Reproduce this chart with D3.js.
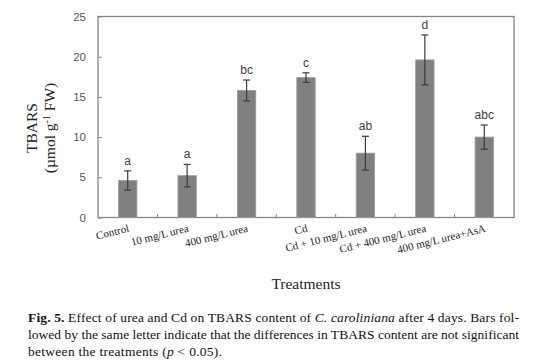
<!DOCTYPE html>
<html>
<head>
<meta charset="utf-8">
<script src="https://cdn.jsdelivr.net/npm/d3@7"></script>
<style>
  html, body { margin: 0; padding: 0; background: #ffffff; }
  svg { display: block; }
</style>
</head>
<body>
<svg id="chart" width="544" height="364"></svg>
<script>
const categories = ["Control", "10 mg/L urea", "400 mg/L urea", "Cd", "Cd + 10 mg/L urea", "Cd + 400 mg/L urea", "400 mg/L urea+AsA"];
const means = [4.6, 5.2, 15.8, 17.4, 8.0, 19.6, 10.0];
const errors = [1.2, 1.4, 1.3, 0.6, 2.1, 3.1, 1.5];
const letters = ["a", "a", "bc", "c", "ab", "d", "abc"];
const yTicks = [0, 5, 10, 15, 20, 25];

const svg = d3.select("#chart");
const plotLeft = 98, plotRight = 514, plotTop = 16.5, plotBottom = 217.5;

const x = d3.scaleBand().domain(categories).range([plotLeft, plotRight]).paddingInner(0).paddingOuter(0);
const y = d3.scaleLinear().domain([0, 25]).range([plotBottom, plotTop]);

// frame
svg.append("rect")
  .attr("x", plotLeft).attr("y", plotTop)
  .attr("width", plotRight - plotLeft).attr("height", plotBottom - plotTop)
  .attr("fill", "none").attr("stroke", "#868686").attr("stroke-width", 1.3);

// y axis (inward ticks)
const yAxis = d3.axisLeft(y).tickValues(yTicks).tickSizeInner(-4).tickSizeOuter(0).tickPadding(12);
const gy = svg.append("g").attr("transform", `translate(${plotLeft},0)`).call(yAxis);
gy.select(".domain").remove();
gy.selectAll(".tick line").attr("stroke", "#868686");
gy.selectAll(".tick text")
  .attr("font-family", "'Liberation Sans', Arial, sans-serif")
  .attr("font-size", 11.5).attr("fill", "#595959");

// x boundary ticks (inward, upward)
const boundaries = categories.slice(1).map(c => x(c));
svg.append("g").selectAll("line").data(boundaries).join("line")
  .attr("x1", d => d).attr("x2", d => d)
  .attr("y1", plotBottom).attr("y2", plotBottom - 3.5)
  .attr("stroke", "#868686").attr("stroke-width", 1);

// bars
const bw = x.bandwidth() * 0.31;
svg.append("g").selectAll("rect").data(categories).join("rect")
  .attr("x", (d) => x(d) + x.bandwidth() / 2 - bw / 2)
  .attr("y", (d, i) => y(means[i]))
  .attr("width", bw)
  .attr("height", (d, i) => y(0) - y(means[i]))
  .attr("fill", "#808080")
  .attr("stroke", "#9c9c9c").attr("stroke-width", 0.8);

// error bars
const eg = svg.append("g").attr("stroke", "#3a3a3a").attr("stroke-width", 1.2);
categories.forEach((c, i) => {
  const cx = x(c) + x.bandwidth() / 2;
  const y1 = y(means[i] + errors[i]), y2 = y(means[i] - errors[i]);
  eg.append("line").attr("x1", cx).attr("x2", cx).attr("y1", y1).attr("y2", y2);
  eg.append("line").attr("x1", cx - 3.5).attr("x2", cx + 3.5).attr("y1", y1).attr("y2", y1);
  eg.append("line").attr("x1", cx - 3.5).attr("x2", cx + 3.5).attr("y1", y2).attr("y2", y2);
});

// significance letters
svg.append("g").selectAll("text").data(categories).join("text")
  .attr("x", d => x(d) + x.bandwidth() / 2)
  .attr("y", (d, i) => y(means[i] + errors[i]) - 6)
  .attr("text-anchor", "middle")
  .attr("font-family", "'Liberation Sans', Arial, sans-serif")
  .attr("font-size", 12).attr("fill", "#404040")
  .text((d, i) => letters[i]);

// x category labels (rotated)
svg.append("g").selectAll("text").data(categories).join("text")
  .attr("transform", d => `translate(${x(d) + x.bandwidth() / 2 + 2},${plotBottom + 14}) rotate(-14)`)
  .attr("text-anchor", "end")
  .attr("font-family", "'Liberation Serif', 'Times New Roman', serif")
  .attr("font-size", 11).attr("fill", "#222")
  .text(d => d);

// y axis title
const yt = svg.append("text")
  .attr("transform", `translate(0,128) rotate(-90)`)
  .attr("text-anchor", "middle")
  .attr("font-family", "'Liberation Serif', 'Times New Roman', serif")
  .attr("font-size", 15.5).attr("fill", "#222");
yt.append("tspan").attr("x", 0).attr("y", 37).text("TBARS");
const l2 = yt.append("tspan").attr("x", 0).attr("y", 55);
l2.append("tspan").text("(µmol g");
l2.append("tspan").attr("dy", -5).attr("font-size", 10).text("-1");
l2.append("tspan").attr("dy", 5).text(" FW)");

// x axis title
svg.append("text")
  .attr("x", 306).attr("y", 289)
  .attr("text-anchor", "middle")
  .attr("font-family", "'Liberation Serif', 'Times New Roman', serif")
  .attr("font-size", 15.5).attr("fill", "#222")
  .text("Treatments");

// caption
const capFont = "'Liberation Serif', 'Times New Roman', serif";
const c1 = svg.append("text").attr("x", 28).attr("y", 322)
  .attr("font-family", capFont).attr("font-size", 13.5).attr("fill", "#111")
  .attr("textLength", 491).attr("lengthAdjust", "spacing");
c1.append("tspan").attr("font-weight", "bold").text("Fig. 5.");
c1.append("tspan").text(" Effect of urea and Cd on TBARS content of ");
c1.append("tspan").attr("font-style", "italic").text("C. caroliniana");
c1.append("tspan").text(" after 4 days. Bars fol-");

svg.append("text").attr("x", 28).attr("y", 339)
  .attr("font-family", capFont).attr("font-size", 13.5).attr("fill", "#111")
  .attr("textLength", 491).attr("lengthAdjust", "spacing")
  .text("lowed by the same letter indicate that the differences in TBARS content are not significant");

const c3 = svg.append("text").attr("x", 28).attr("y", 356)
  .attr("font-family", capFont).attr("font-size", 13.5).attr("fill", "#111")
  .attr("textLength", 194).attr("lengthAdjust", "spacing");
c3.append("tspan").text("between the treatments (");
c3.append("tspan").attr("font-style", "italic").text("p");
c3.append("tspan").text(" < 0.05).");
</script>
</body>
</html>
